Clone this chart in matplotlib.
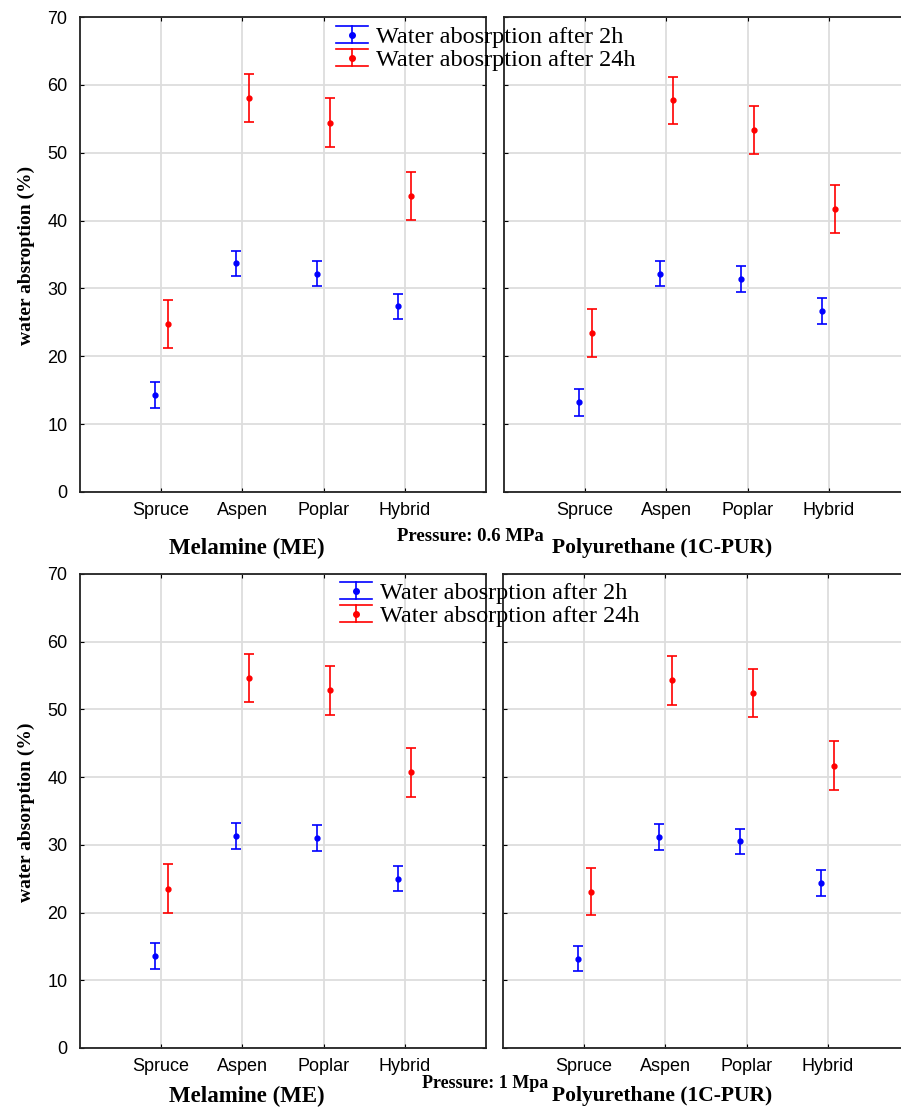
import numpy as np
import matplotlib
matplotlib.use('Agg')
from matplotlib import pyplot as plt
from matplotlib.legend_handler import HandlerBase
from matplotlib.lines import Line2D

species = ['Spruce', 'Aspen', 'Poplar', 'Hybrid']

# pressure 0.6 MPa
me06_2h = [14.3, 33.7, 32.2, 27.4]
me06_2h_err = [1.95, 1.85, 1.9, 1.85]
me06_24h = [24.7, 58.1, 54.4, 43.6]
me06_24h_err = [3.55, 3.55, 3.6, 3.55]
pur06_2h = [13.2, 32.2, 31.4, 26.7]
pur06_2h_err = [1.95, 1.9, 1.95, 1.9]
pur06_24h = [23.4, 57.7, 53.3, 41.7]
pur06_24h_err = [3.55, 3.5, 3.55, 3.6]

# pressure 1 MPa
me1_2h = [13.6, 31.3, 31.0, 25.0]
me1_2h_err = [1.95, 1.95, 1.9, 1.85]
me1_24h = [23.5, 54.6, 52.8, 40.7]
me1_24h_err = [3.6, 3.55, 3.55, 3.6]
pur1_2h = [13.2, 31.2, 30.5, 24.4]
pur1_2h_err = [1.9, 1.9, 1.9, 1.95]
pur1_24h = [23.1, 54.3, 52.4, 41.7]
pur1_24h_err = [3.5, 3.6, 3.55, 3.65]

serif = 'Liberation Serif'
sans = 'Liberation Sans'

W, H = 901, 1110
fig = plt.figure(figsize=(W / 100, H / 100), dpi=100)


def px_axes(x0, x1, y0, y1):
    return fig.add_axes([x0 / W, 1 - y1 / H, (x1 - x0) / W, (y1 - y0) / H])


def panel(ax, v2, e2, v24, e24, show_y):
    x = np.arange(1, len(species) + 1)
    ax.errorbar(x - 0.08, v2, yerr=e2, fmt='o', color='#0000ff', ms=3.5,
                elinewidth=1.2, capsize=3.5, capthick=1.2, zorder=3)
    ax.errorbar(x + 0.08, v24, yerr=e24, fmt='o', color='#ff0000', ms=3.5,
                elinewidth=1.2, capsize=3.5, capthick=1.2, zorder=3)
    ax.set_xlim(0, 5)
    ax.set_ylim(0, 70)
    ax.set_xticks(x)
    ax.set_xticklabels(species, fontfamily=sans, fontsize=13)
    ax.set_yticks(np.arange(0, 71, 10))
    ax.grid(True, color='#dddddd', lw=1.3)
    ax.set_axisbelow(True)
    ax.tick_params(direction='in', length=3, top=True, right=True,
                   labelsize=13, pad=7, colors='black')
    ax.tick_params(axis='y', pad=9)
    for lab in ax.get_yticklabels():
        lab.set_fontfamily(sans)
    if not show_y:
        ax.tick_params(labelleft=False)
    for s in ax.spines.values():
        s.set_linewidth(1.3)
        s.set_color('#222222')


axes = [
    (px_axes(80, 486, 17, 492), me06_2h, me06_2h_err, me06_24h, me06_24h_err, True),
    (px_axes(504, 910, 17, 492), pur06_2h, pur06_2h_err, pur06_24h, pur06_24h_err, False),
    (px_axes(80, 486, 574, 1048), me1_2h, me1_2h_err, me1_24h, me1_24h_err, True),
    (px_axes(503, 909, 574, 1048), pur1_2h, pur1_2h_err, pur1_24h, pur1_24h_err, False),
]
for a in axes:
    panel(*a)

bold = dict(fontfamily=serif, fontweight='bold')
fig.text(26 / W, 1 - 255 / H, 'water absroption (%)', rotation=90,
         ha='center', va='center', fontsize=14, **bold)
fig.text(26 / W, 1 - 812 / H, 'water absorption (%)', rotation=90,
         ha='center', va='center', fontsize=14, **bold)

fig.text(247 / W, 1 - 548 / H, 'Melamine (ME)', ha='center', va='center', fontsize=16.5, **bold)
fig.text(662 / W, 1 - 548 / H, 'Polyurethane (1C-PUR)', ha='center', va='center', fontsize=15.5, **bold)
fig.text(470 / W, 1 - 537 / H, 'Pressure: 0.6 MPa', ha='center', va='center', fontsize=13.5, **bold)

fig.text(247 / W, 1 - 1096 / H, 'Melamine (ME)', ha='center', va='center', fontsize=16.5, **bold)
fig.text(662 / W, 1 - 1096 / H, 'Polyurethane (1C-PUR)', ha='center', va='center', fontsize=15.5, **bold)
fig.text(485 / W, 1 - 1084 / H, 'Pressure: 1 Mpa', ha='center', va='center', fontsize=13, **bold)


class ErrHandle:
    def __init__(self, color):
        self.color = color


class ErrHandler(HandlerBase):
    # vertical bar with wide caps and a dot, like the original legend
    def create_artists(self, legend, orig_handle, xdescent, ydescent,
                       width, height, fontsize, trans):
        c = orig_handle.color
        xm = width / 2 - xdescent
        ym = height / 2 - ydescent
        h = 0.36 * fontsize
        x0, x1 = -xdescent, width - xdescent
        arts = [
            Line2D([xm, xm], [ym - h, ym + h], color=c, lw=1.2),
            Line2D([x0, x1], [ym - h, ym - h], color=c, lw=1.2),
            Line2D([x0, x1], [ym + h, ym + h], color=c, lw=1.2),
            Line2D([xm], [ym], color=c, marker='o', ms=4, ls='none'),
        ]
        for a in arts:
            a.set_transform(trans)
        return arts


hb, hr = ErrHandle('#0000ff'), ErrHandle('#ff0000')
legend_kw = dict(frameon=False, loc='upper left', handlelength=1.3, handletextpad=0.35,
                 labelspacing=0.05, borderpad=0, borderaxespad=0,
                 prop={'family': serif, 'size': 17.5},
                 handler_map={ErrHandle: ErrHandler()})
fig.legend([hb, hr], ['Water abosrption after 2h', 'Water abosrption after 24h'],
           bbox_to_anchor=(336 / W, 1 - 26 / H), **legend_kw)
fig.legend([hb, hr], ['Water abosrption after 2h', 'Water absorption after 24h'],
           bbox_to_anchor=(340 / W, 1 - 582 / H), **legend_kw)

fig.savefig('out.png', dpi=100)
